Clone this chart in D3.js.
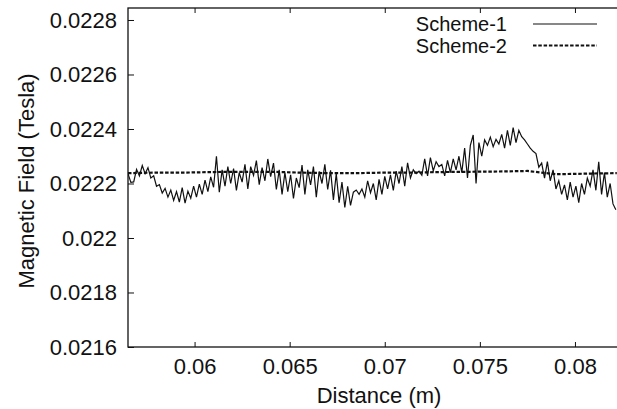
<!DOCTYPE html>
<html>
<head>
<meta charset="utf-8">
<script src="https://cdn.jsdelivr.net/npm/d3@7"></script>
<style>
  body { margin: 0; background: #fff; }
  svg { display: block; font-family: "Liberation Sans", Arial, sans-serif; }
  .axis text { font-size: 22px; fill: #111; }
  .axis line { stroke: #111; }
  .axis path { display: none; }
</style>
</head>
<body>
<svg id="chart" width="617" height="409"></svg>
<script>
// distance (m) sampled for Scheme-1
const distance1 = [
  0.0565, 0.05665, 0.0568, 0.05695, 0.0571, 0.05725, 0.0574, 0.05755, 0.0577, 0.05785,
  0.058, 0.05815, 0.0583, 0.05845, 0.0586, 0.05875, 0.0589, 0.05905, 0.0592, 0.05935,
  0.0595, 0.05965, 0.0598, 0.05995, 0.0601, 0.06025, 0.0604, 0.06055, 0.0607, 0.06085,
  0.061, 0.06115, 0.0613, 0.06145, 0.0616, 0.06175, 0.0619, 0.06205, 0.0622, 0.06235,
  0.0625, 0.06265, 0.0628, 0.06295, 0.0631, 0.06325, 0.0634, 0.06355, 0.0637, 0.06385,
  0.064, 0.06415, 0.0643, 0.06445, 0.0646, 0.06475, 0.0649, 0.06505, 0.0652, 0.06535,
  0.0655, 0.06565, 0.0658, 0.06595, 0.0661, 0.06625, 0.0664, 0.06655, 0.0667, 0.06685,
  0.067, 0.06715, 0.0673, 0.06745, 0.0676, 0.06775, 0.0679, 0.06805, 0.0682, 0.06835,
  0.0685, 0.06865, 0.0688, 0.06895, 0.0691, 0.06925, 0.0694, 0.06955, 0.0697, 0.06985,
  0.07, 0.07015, 0.0703, 0.07045, 0.0706, 0.07075, 0.0709, 0.07105, 0.0712, 0.07135,
  0.0715, 0.07165, 0.0718, 0.07195, 0.0721, 0.07225, 0.0724, 0.07255, 0.0727, 0.07285,
  0.073, 0.07315, 0.0733, 0.07345, 0.0736, 0.07375, 0.0739, 0.07405, 0.0742, 0.07435,
  0.0745, 0.07465, 0.0748, 0.07495, 0.0751, 0.07525, 0.0754, 0.07555, 0.0757, 0.07585,
  0.076, 0.07615, 0.0763, 0.07645, 0.0766, 0.07675, 0.0769, 0.07705, 0.0772, 0.07735,
  0.0775, 0.07765, 0.0778, 0.07795, 0.0781, 0.07825, 0.0784, 0.07855, 0.0787, 0.07885,
  0.079, 0.07915, 0.0793, 0.07945, 0.0796, 0.07975, 0.0799, 0.08005, 0.0802, 0.08035,
  0.0805, 0.08065, 0.0808, 0.08095, 0.0811, 0.08125, 0.0814, 0.08155, 0.0817, 0.08185,
  0.082, 0.08215
];

// magnetic field (T), Scheme-1
const scheme1 = [
  0.022236, 0.022204, 0.022206, 0.022252, 0.022228, 0.022266, 0.022236, 0.022258, 0.022220, 0.022228,
  0.022190, 0.022196, 0.022165, 0.022182, 0.022150, 0.022176, 0.022138, 0.022170, 0.022132, 0.022185,
  0.022128, 0.022172, 0.022146, 0.022190, 0.022150, 0.022198, 0.022160, 0.022212, 0.022170, 0.022224,
  0.022186, 0.022300, 0.022168, 0.022250, 0.022190, 0.022262, 0.022200, 0.022255, 0.022175, 0.022240,
  0.022205, 0.022270, 0.022180, 0.022262, 0.022230, 0.022284, 0.022196, 0.022258, 0.022210, 0.022290,
  0.022225, 0.022275, 0.022178, 0.022250, 0.022160, 0.022240, 0.022170, 0.022232, 0.022145, 0.022220,
  0.022185, 0.022268, 0.022160, 0.022250, 0.022195, 0.022262, 0.022150, 0.022244, 0.022200, 0.022270,
  0.022178, 0.022248, 0.022140, 0.022236, 0.022130, 0.022205, 0.022112, 0.022190, 0.022120, 0.022168,
  0.022176, 0.022160, 0.022180, 0.022150, 0.022210, 0.022166, 0.022200, 0.022140, 0.022215, 0.022160,
  0.022226, 0.022180, 0.022232, 0.022175, 0.022245, 0.022200, 0.022262, 0.022190, 0.022276, 0.022220,
  0.022250, 0.022236, 0.022245, 0.022230, 0.022290, 0.022228, 0.022295, 0.022246, 0.022280, 0.022262,
  0.022270, 0.022228, 0.022285, 0.022240, 0.022290, 0.022250, 0.022300, 0.022240, 0.022330, 0.022220,
  0.022340, 0.022378, 0.022200, 0.022350, 0.022300, 0.022360, 0.022340, 0.022370, 0.022335, 0.022362,
  0.022345, 0.022380, 0.022330, 0.022395, 0.022340, 0.022405, 0.022350, 0.022395, 0.022372, 0.022360,
  0.022345, 0.022330, 0.022318, 0.022310, 0.022260, 0.022275, 0.022220, 0.022280, 0.022210, 0.022250,
  0.022180, 0.022210, 0.022160, 0.022195, 0.022140, 0.022205, 0.022150, 0.022190, 0.022130, 0.022200,
  0.022160, 0.022220, 0.022190, 0.022250, 0.022175, 0.022280, 0.022160, 0.022240, 0.022150, 0.022200,
  0.022125, 0.022104
];

// Scheme-2 is a smooth curve, fewer samples
const distance2 = [0.0565, 0.058, 0.0595, 0.061, 0.0625, 0.064, 0.0655, 0.067, 0.0685,
  0.07, 0.0715, 0.073, 0.0745, 0.076, 0.0775, 0.079, 0.0805, 0.0822];
const scheme2 = [0.022238, 0.022240, 0.022240, 0.022242, 0.022243, 0.022243, 0.022240, 0.022238, 0.022238,
  0.022240, 0.022240, 0.022242, 0.022243, 0.022244, 0.022246, 0.022234, 0.022236, 0.022238];

const xTicks = [0.06, 0.065, 0.07, 0.075, 0.08];
const xTickLabels = ['0.06', '0.065', '0.07', '0.075', '0.08'];
const yTicks = [0.0216, 0.0218, 0.022, 0.0222, 0.0224, 0.0226, 0.0228];
const yTickLabels = ['0.0216', '0.0218', '0.022', '0.0222', '0.0224', '0.0226', '0.0228'];
const seriesNames = ['Scheme-1', 'Scheme-2'];

const margin = {top: 8, right: 0, bottom: 62, left: 128};
const svg = d3.select('#chart');
const width = +svg.attr('width') - margin.left - margin.right;
const height = +svg.attr('height') - margin.top - margin.bottom;

const x = d3.scaleLinear().domain([0.0565, 0.0822]).range([0, 488.8]);
const y = d3.scaleLinear().domain([0.0216, 0.022844]).range([height, 0]);

const chart = svg.append('g')
  .attr('transform', 'translate(' + margin.left + ',' + margin.top + ')');

chart.append('clipPath').attr('id', 'clip')
  .append('rect').attr('width', width).attr('height', height);

// axes with inward ticks
chart.append('g')
  .attr('class', 'axis axis--x')
  .attr('transform', 'translate(0,' + height + ')')
  .call(d3.axisBottom(x).tickValues(xTicks)
    .tickFormat((d, i) => xTickLabels[i])
    .tickSizeInner(-5).tickSizeOuter(0).tickPadding(11));

chart.append('g')
  .attr('class', 'axis axis--x2')
  .call(d3.axisTop(x).tickValues(xTicks).tickFormat('')
    .tickSizeInner(-5).tickSizeOuter(0));

chart.append('g')
  .attr('class', 'axis axis--y')
  .call(d3.axisLeft(y).tickValues(yTicks)
    .tickFormat((d, i) => yTickLabels[i])
    .tickSizeInner(-6).tickSizeOuter(0).tickPadding(11));

// frame
chart.append('rect')
  .attr('width', width + 2).attr('height', height)
  .attr('fill', 'none').attr('stroke', '#111').attr('stroke-width', 1.3);

const line = d3.line().x(d => x(d[0])).y(d => y(d[1]));

chart.append('path')
  .datum(d3.zip(distance2, scheme2))
  .attr('clip-path', 'url(#clip)')
  .attr('fill', 'none')
  .attr('stroke', '#111')
  .attr('stroke-width', 2.2)
  .attr('stroke-dasharray', '3.5,1.8')
  .attr('d', line);

chart.append('path')
  .datum(d3.zip(distance1, scheme1))
  .attr('clip-path', 'url(#clip)')
  .attr('fill', 'none')
  .attr('stroke', '#111')
  .attr('stroke-width', 1.2)
  .attr('d', line);

// legend
const legend = svg.append('g').attr('class', 'legend');
const legendRows = legend.selectAll('g')
  .data(seriesNames)
  .enter().append('g')
  .attr('transform', (d, i) => 'translate(0,' + (24 + i * 21.5) + ')');

legendRows.append('text')
  .attr('x', 507).attr('y', 7)
  .attr('text-anchor', 'end')
  .style('font-size', '20px').style('fill', '#111')
  .text(d => d);

legendRows.append('line')
  .attr('x1', 533).attr('x2', 597)
  .attr('stroke', '#111')
  .attr('stroke-width', (d, i) => i ? 2.2 : 1.2)
  .attr('stroke-dasharray', (d, i) => i ? '3.5,1.8' : null);

// axis titles
svg.append('text')
  .attr('x', margin.left + x(0.0697)).attr('y', 403)
  .attr('text-anchor', 'middle')
  .style('font-size', '22px').style('fill', '#111')
  .text('Distance (m)');

svg.append('text')
  .attr('transform', 'translate(34,181) rotate(-90)')
  .attr('text-anchor', 'middle')
  .style('font-size', '22px').style('fill', '#111')
  .text('Magnetic Field (Tesla)');
</script>
</body>
</html>
